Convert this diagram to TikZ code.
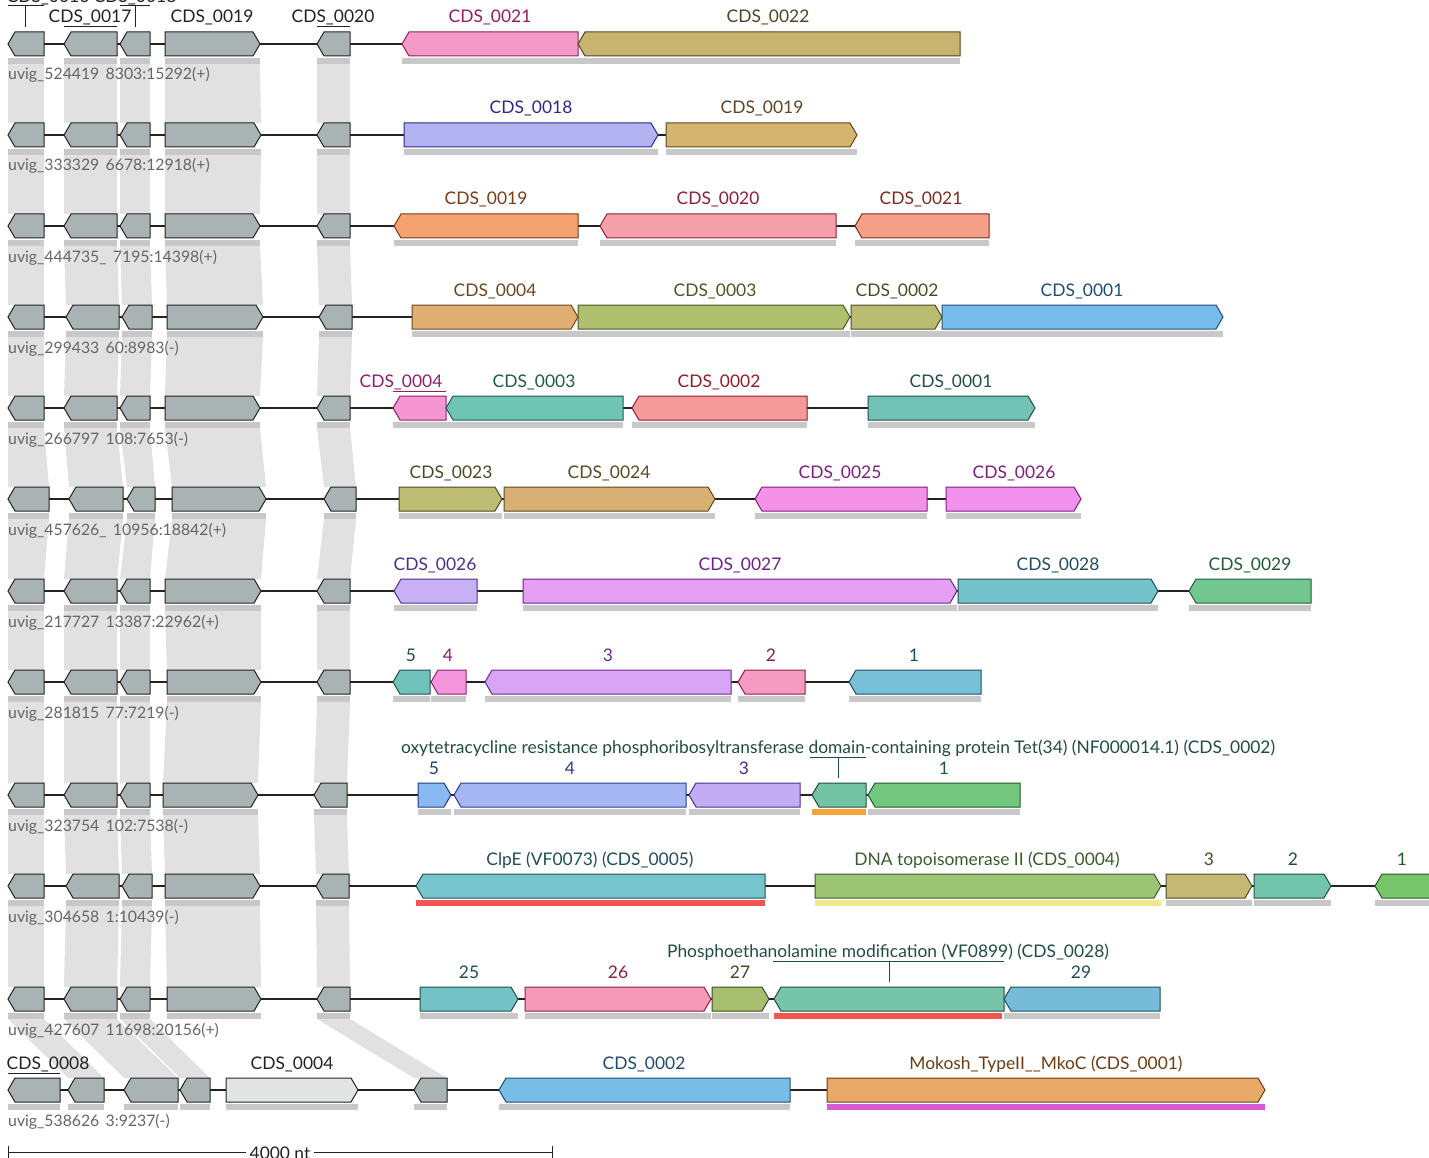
\documentclass[tikz,border=0pt]{standalone}
\usepackage{fontspec}
\setmainfont{Lato}
\usepackage{tikz}
\pgfdeclarelayer{bg}
\pgfsetlayers{bg,main}

\definecolor{genegray}{HTML}{AAB3B3}
\definecolor{genelight}{HTML}{E3E5E5}
\definecolor{geneline}{HTML}{222222}
\definecolor{bargray}{HTML}{C8C8C8}
\definecolor{bandgray}{HTML}{E1E1E1}
\definecolor{rowtext}{HTML}{666666}
\definecolor{tetbar}{HTML}{F7A23A}
\definecolor{vfred}{HTML}{F0554F}
\definecolor{topoyel}{HTML}{F0E68C}
\definecolor{mkobar}{HTML}{D65AD6}
% gene fills and their dark line / text colours
\definecolor{r1a}{HTML}{F49AC9}\definecolor{r1aT}{HTML}{8E1F5C}
\definecolor{r1b}{HTML}{C8B46E}\definecolor{r1bT}{HTML}{4F4423}
\definecolor{r2a}{HTML}{B3B3F2}\definecolor{r2aT}{HTML}{2A2A8C}
\definecolor{r2b}{HTML}{D4B46E}\definecolor{r2bT}{HTML}{5C4520}
\definecolor{r3a}{HTML}{F4A270}\definecolor{r3aT}{HTML}{7A3A12}
\definecolor{r3b}{HTML}{F6A0AC}\definecolor{r3bT}{HTML}{8E1E38}
\definecolor{r3c}{HTML}{F5A088}\definecolor{r3cT}{HTML}{7E2A1E}
\definecolor{r4a}{HTML}{E0AD72}\definecolor{r4aT}{HTML}{6A4620}
\definecolor{r4b}{HTML}{AEC06E}\definecolor{r4bT}{HTML}{4C5622}
\definecolor{r4c}{HTML}{B9BD72}\definecolor{r4cT}{HTML}{4C4C22}
\definecolor{r4d}{HTML}{78BCEE}\definecolor{r4dT}{HTML}{1F4C72}
\definecolor{r5a}{HTML}{F596D2}\definecolor{r5aT}{HTML}{8E1E6E}
\definecolor{r5b}{HTML}{6FC4B2}\definecolor{r5bT}{HTML}{1F5A4C}
\definecolor{r5c}{HTML}{F59A9A}\definecolor{r5cT}{HTML}{8E1E2C}
\definecolor{r5d}{HTML}{72C2B6}\definecolor{r5dT}{HTML}{1F4E4A}
\definecolor{r6a}{HTML}{BDBC72}\definecolor{r6aT}{HTML}{4C4A22}
\definecolor{r6b}{HTML}{D8B074}\definecolor{r6bT}{HTML}{5C4822}
\definecolor{r6c}{HTML}{F392E8}\definecolor{r6cT}{HTML}{7E1E80}
\definecolor{r6d}{HTML}{F392EE}\definecolor{r6dT}{HTML}{7E1E82}
\definecolor{r7a}{HTML}{C8B0F6}\definecolor{r7aT}{HTML}{4C2E8E}
\definecolor{r7b}{HTML}{E49EF2}\definecolor{r7bT}{HTML}{6E1E8E}
\definecolor{r7c}{HTML}{76C2CC}\definecolor{r7cT}{HTML}{1F4E5C}
\definecolor{r7d}{HTML}{72C690}\definecolor{r7dT}{HTML}{1F5C34}
\definecolor{r8a}{HTML}{72C2BC}\definecolor{r8aT}{HTML}{1F4E4C}
\definecolor{r8b}{HTML}{F596DC}\definecolor{r8bT}{HTML}{8E1E72}
\definecolor{r8c}{HTML}{D8A4F4}\definecolor{r8cT}{HTML}{6A2A8E}
\definecolor{r8d}{HTML}{F59AC0}\definecolor{r8dT}{HTML}{8E1E48}
\definecolor{r8e}{HTML}{78C0D6}\definecolor{r8eT}{HTML}{1F4C5E}
\definecolor{r9a}{HTML}{8AB8F0}\definecolor{r9aT}{HTML}{1F3C7E}
\definecolor{r9b}{HTML}{A6B6F2}\definecolor{r9bT}{HTML}{2A3C8E}
\definecolor{r9c}{HTML}{C2ACF2}\definecolor{r9cT}{HTML}{4C2C8E}
\definecolor{r9d}{HTML}{72C4A4}\definecolor{r9dT}{HTML}{1F4E3C}
\definecolor{r9e}{HTML}{72C67E}\definecolor{r9eT}{HTML}{1F5C2A}
\definecolor{r10a}{HTML}{76C4CC}\definecolor{r10aT}{HTML}{1F4E5C}
\definecolor{r10b}{HTML}{9DC472}\definecolor{r10bT}{HTML}{3A5C2A}
\definecolor{r10c}{HTML}{C5B874}\definecolor{r10cT}{HTML}{4C4A22}
\definecolor{r10d}{HTML}{72C4AA}\definecolor{r10dT}{HTML}{1F4E42}
\definecolor{r10e}{HTML}{78C46A}\definecolor{r10eT}{HTML}{1F5C22}
\definecolor{r11a}{HTML}{72C2C6}\definecolor{r11aT}{HTML}{1F4E4E}
\definecolor{r11b}{HTML}{F59AB8}\definecolor{r11bT}{HTML}{8E1E44}
\definecolor{r11c}{HTML}{A6BE6E}\definecolor{r11cT}{HTML}{3C4C20}
\definecolor{r11d}{HTML}{76C4AA}\definecolor{r11dT}{HTML}{1F4E3E}
\definecolor{r11e}{HTML}{76BCD8}\definecolor{r11eT}{HTML}{1F4C5E}
\definecolor{r12a}{HTML}{78BCE8}\definecolor{r12aT}{HTML}{1F4C6E}
\definecolor{r12b}{HTML}{E8A868}\definecolor{r12bT}{HTML}{6E3C12}

\tikzset{
  lbl/.style={font=\fontsize{17.4}{20}\selectfont, anchor=base, inner sep=0pt, text=geneline},
  rowlbl/.style={font=\fontsize{15.8}{18}\selectfont, anchor=base west, inner sep=0pt, text=rowtext},
  spine/.style={line width=1.3pt, draw=geneline},
  uline/.style={line width=1pt, draw=geneline},
  band/.style={fill=bandgray},
}

% cy, x1, x2, fill, line
\newcommand\geneR[5]{%
  \draw[line width=1pt, fill=#4, draw=#5] (#2,#1-12) -- (#3-7,#1-12) -- (#3,#1) -- (#3-7,#1+12) -- (#2,#1+12) -- cycle;}
\newcommand\geneL[5]{%
  \draw[line width=1pt, fill=#4, draw=#5] (#3,#1-12) -- (#2+7,#1-12) -- (#2,#1) -- (#2+7,#1+12) -- (#3,#1+12) -- cycle;}
% cy, x1, x2, colour
\newcommand\genebar[4]{\fill[#4] (#2,#1+14) rectangle (#3,#1+20);}
% [bar], dir, cy, x1, x2, colour, name, label, label x
\newcommand\cgene[9][bargray]{%
  \if#2R\geneR{#3}{#4}{#5}{#6}{#6T}\else\geneL{#3}{#4}{#5}{#6}{#6T}\fi
  \genebar{#3}{#4}{#5}{#1}
  \node[lbl, text=#6T] (#7) at (#9,#3-21) {#8};}
% row, cy, list of grey genes
\newcommand\grayrow[3]{%
  \foreach \a/\b/\d [count=\i] in {#3}{
    \coordinate (g#1-\i-a) at (\a,#2+20);
    \coordinate (g#1-\i-b) at (\b,#2+20);
    \coordinate (g#1-\i-c) at (\a,#2-12);
    \coordinate (g#1-\i-d) at (\b,#2-12);
    \if\d R\geneR{#2}{\a}{\b}{genegray}{geneline}\else\geneL{#2}{\a}{\b}{genegray}{geneline}\fi
    \genebar{#2}{\a}{\b}{bargray}
  }}

\begin{document}
\begin{tikzpicture}[x=1pt, y=-1pt]
\useasboundingbox (0,0) rectangle (1429,1158);

% row 1
\draw[spine] (8,44) -- (960,44);
\grayrow{1}{44}{8/44/L,64/117/L,120/150/L,165/260/R,317/350/L}
\node[lbl] (n1-16) at (48,3) {CDS\_0016};
\draw[uline] (8,6) -- (44,6) (25,6) -- (25,27);
\node[lbl] (n1-18) at (135,3) {CDS\_0018};
\draw[uline] (120,6) -- (150,6) (135,6) -- (135,27);
\node[lbl] (n1-17) at (90,23) {CDS\_0017};
\draw[uline] (64,27) -- (117,27);
\node[lbl] (n1-19) at (212,23) {CDS\_0019};
\node[lbl] (n1-20) at (333,23) {CDS\_0020};
\draw[uline] (317,27) -- (350,27);
\cgene{L}{44}{402}{578}{r1a}{c1-21}{CDS\_0021}{490}
\cgene{L}{44}{578}{960}{r1b}{c1-22}{CDS\_0022}{768}
\node[rowlbl] (u1) at (8,80) {uvig\_524419\hspace{0.4em}8303:15292(+)};

% row 2
\draw[spine] (8,135) -- (857,135);
\grayrow{2}{135}{8/44/L,64/117/L,120/150/L,165/261/R,317/350/L}
\cgene{R}{135}{404}{658}{r2a}{c2-18}{CDS\_0018}{531}
\cgene{R}{135}{666}{857}{r2b}{c2-19}{CDS\_0019}{762}
\node[rowlbl] (u2) at (8,171) {uvig\_333329\hspace{0.4em}6678:12918(+)};

% row 3
\draw[spine] (8,226) -- (989,226);
\grayrow{3}{226}{8/44/L,64/117/L,120/150/L,165/260/R,317/350/L}
\cgene{L}{226}{394}{578}{r3a}{c3-19}{CDS\_0019}{486}
\cgene{L}{226}{600}{836}{r3b}{c3-20}{CDS\_0020}{718}
\cgene{L}{226}{855}{989}{r3c}{c3-21}{CDS\_0021}{921}
\node[rowlbl] (u3) at (8,262) {uvig\_444735\_\hspace{0.4em}7195:14398(+)};

% row 4
\draw[spine] (8,317) -- (1223,317);
\grayrow{4}{317}{8/44/L,66/119/L,122/152/L,167/263/R,319/352/L}
\cgene{R}{317}{412}{578}{r4a}{c4-04}{CDS\_0004}{495}
\cgene{R}{317}{578}{850}{r4b}{c4-03}{CDS\_0003}{715}
\cgene{R}{317}{851}{942}{r4c}{c4-02}{CDS\_0002}{897}
\cgene{R}{317}{942}{1223}{r4d}{c4-01}{CDS\_0001}{1082}
\node[rowlbl] (u4) at (8,353) {uvig\_299433\hspace{0.4em}60:8983(-)};

% row 5
\draw[spine] (8,408) -- (1035,408);
\grayrow{5}{408}{8/44/L,64/117/L,120/150/L,165/260/R,317/350/L}
\cgene{L}{408}{393}{446}{r5a}{c5-04}{CDS\_0004}{401}
\draw[uline, draw=r5aT] (393,391) -- (446,391);
\cgene{L}{408}{446}{623}{r5b}{c5-03}{CDS\_0003}{534}
\cgene{L}{408}{632}{807}{r5c}{c5-02}{CDS\_0002}{719}
\cgene{R}{408}{868}{1035}{r5d}{c5-01}{CDS\_0001}{951}
\node[rowlbl] (u5) at (8,444) {uvig\_266797\hspace{0.4em}108:7653(-)};

% row 6
\draw[spine] (8,499) -- (1081,499);
\grayrow{6}{499}{8/49/L,69/123/L,127/155/L,172/266/R,324/356/L}
\cgene{R}{499}{399}{502}{r6a}{c6-23}{CDS\_0023}{451}
\cgene{R}{499}{504}{715}{r6b}{c6-24}{CDS\_0024}{609}
\cgene{L}{499}{755}{927}{r6c}{c6-25}{CDS\_0025}{840}
\cgene{R}{499}{946}{1081}{r6d}{c6-26}{CDS\_0026}{1014}
\node[rowlbl] (u6) at (8,535) {uvig\_457626\_\hspace{0.4em}10956:18842(+)};

% row 7
\draw[spine] (8,591) -- (1311,591);
\grayrow{7}{591}{8/44/L,64/117/L,120/150/L,165/261/R,317/350/L}
\cgene{L}{591}{394}{477}{r7a}{c7-26}{CDS\_0026}{435}
\cgene{R}{591}{523}{957}{r7b}{c7-27}{CDS\_0027}{740}
\cgene{R}{591}{958}{1158}{r7c}{c7-28}{CDS\_0028}{1058}
\cgene{L}{591}{1189}{1311}{r7d}{c7-29}{CDS\_0029}{1250}
\node[rowlbl] (u7) at (8,627) {uvig\_217727\hspace{0.4em}13387:22962(+)};

% row 8
\draw[spine] (8,682) -- (981,682);
\grayrow{8}{682}{8/44/L,64/117/L,120/150/L,167/261/R,317/350/L}
\cgene{L}{682}{393}{430}{r8a}{c8-5}{5}{411}
\cgene{L}{682}{431}{466}{r8b}{c8-4}{4}{448}
\cgene{L}{682}{485}{731}{r8c}{c8-3}{3}{608}
\cgene{L}{682}{738}{805}{r8d}{c8-2}{2}{771}
\cgene{L}{682}{849}{981}{r8e}{c8-1}{1}{914}
\node[rowlbl] (u8) at (8,718) {uvig\_281815\hspace{0.4em}77:7219(-)};

% row 9
\draw[spine] (8,795) -- (1020,795);
\grayrow{9}{795}{8/44/L,64/117/L,120/150/L,163/258/R,314/347/L}
\cgene{R}{795}{418}{451}{r9a}{c9-5}{5}{434}
\cgene{L}{795}{454}{686}{r9b}{c9-4}{4}{570}
\cgene{L}{795}{689}{800}{r9c}{c9-3}{3}{744}
\geneL{795}{812}{866}{r9d}{r9dT}
\genebar{795}{812}{866}{tetbar}
\node[lbl, text=r9dT] (c9-2) at (838,753) {oxytetracycline resistance phosphoribosyltransferase domain-containing protein Tet(34) (NF000014.1) (CDS\_0002)};
\draw[uline, draw=r9dT] (810,757) -- (866,757) (838,757) -- (838,778);
\cgene{L}{795}{868}{1020}{r9e}{c9-1}{1}{944}
\node[rowlbl] (u9) at (8,831) {uvig\_323754\hspace{0.4em}102:7538(-)};

% row 10
\draw[spine] (8,886) -- (1429,886);
\grayrow{10}{886}{8/44/L,66/119/L,122/152/L,165/260/R,316/349/L}
\cgene[vfred]{L}{886}{416}{765}{r10a}{c10-05}{ClpE (VF0073) (CDS\_0005)}{590}
\cgene[topoyel]{R}{886}{815}{1161}{r10b}{c10-04}{DNA topoisomerase II (CDS\_0004)}{987}
\cgene{R}{886}{1166}{1252}{r10c}{c10-3}{3}{1209}
\cgene{R}{886}{1254}{1331}{r10d}{c10-2}{2}{1293}
\cgene{L}{886}{1375}{1460}{r10e}{c10-1}{1}{1402}
\node[rowlbl] (u10) at (8,922) {uvig\_304658\hspace{0.4em}1:10439(-)};

% row 11
\draw[spine] (8,999) -- (1160,999);
\grayrow{11}{999}{8/44/L,64/117/L,120/150/L,167/261/R,317/350/L}
\cgene{R}{999}{420}{518}{r11a}{c11-25}{25}{469}
\cgene{R}{999}{525}{711}{r11b}{c11-26}{26}{618}
\cgene{R}{999}{712}{769}{r11c}{c11-27}{27}{740}
\geneL{999}{774}{1004}{r11d}{r11dT}
\genebar{999}{774}{1002}{vfred}
\node[lbl, text=r11dT] (c11-28) at (888,957) {Phosphoethanolamine modification (VF0899) (CDS\_0028)};
\draw[uline, draw=r11dT] (773,961) -- (1004,961) (889,961) -- (889,982);
\cgene{L}{999}{1004}{1160}{r11e}{c11-29}{29}{1081}
\node[rowlbl] (u11) at (8,1035) {uvig\_427607\hspace{0.4em}11698:20156(+)};

% row 12
\draw[spine] (8,1090) -- (1265,1090);
\grayrow{12}{1090}{8/60/L,68/104/L,124/178/L,180/210/L,414/447/L}
\node[lbl] (n12-08) at (48,1069) {CDS\_0008};
\draw[uline] (8,1073) -- (60,1073);
\geneR{1090}{226}{358}{genelight}{geneline}
\genebar{1090}{226}{358}{bargray}
\node[lbl] (n12-04) at (292,1069) {CDS\_0004};
\cgene{L}{1090}{499}{790}{r12a}{c12-02}{CDS\_0002}{644}
\cgene[mkobar]{R}{1090}{827}{1265}{r12b}{c12-01}{Mokosh\_TypeII\_\_MkoC (CDS\_0001)}{1046}
\node[rowlbl] (u12) at (8,1126) {uvig\_538626\hspace{0.4em}3:9237(-)};

% homology bands
\begin{pgfonlayer}{bg}
\foreach \r in {1,...,10}{
  \pgfmathtruncatemacro\s{\r+1}
  \foreach \i in {1,...,5}
    \fill[band] (g\r-\i-a) -- (g\r-\i-b) -- (g\s-\i-d) -- (g\s-\i-c) -- cycle;
}
\foreach \i/\j in {1/2,2/3,3/4,5/5}
  \fill[band] (g11-\i-a) -- (g11-\i-b) -- (g12-\j-d) -- (g12-\j-c) -- cycle;
\end{pgfonlayer}

% scale bar
\coordinate (s0) at (8,1152);
\coordinate (s1) at (552,1152);
\draw[uline] (s0) -- (s1) (8,1146) -- (8,1158) (552,1146) -- (552,1158);
\node[lbl, fill=white, inner xsep=4pt, inner ysep=2pt] (sl) at (280,1159) {4000 nt};
\end{tikzpicture}
\end{document}
